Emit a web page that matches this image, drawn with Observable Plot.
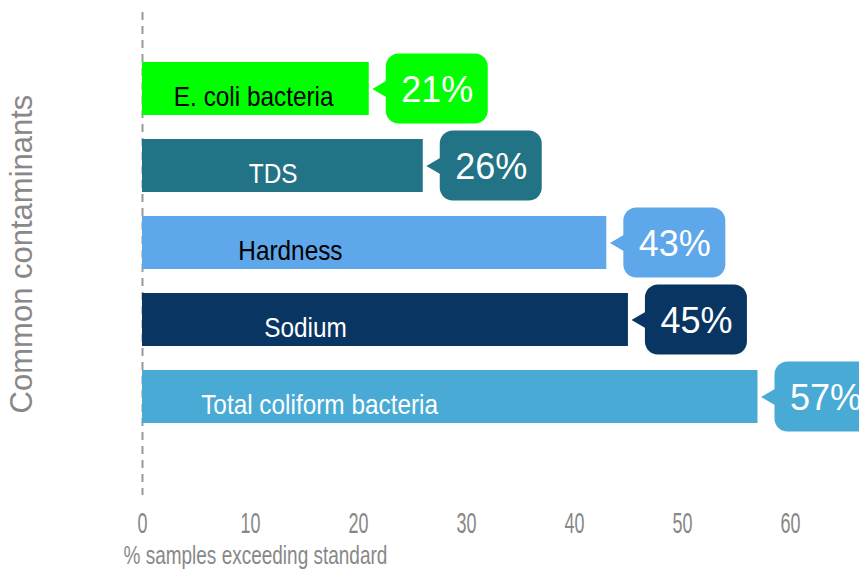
<!DOCTYPE html>
<html>
<head>
<meta charset="utf-8">
<script src="https://cdn.jsdelivr.net/npm/d3@7"></script>
<script src="https://cdn.jsdelivr.net/npm/@observablehq/plot@0.6"></script>
<style>
  html, body { margin: 0; padding: 0; background: #fff; }
  #chart svg { display: block; }
</style>
</head>
<body>
<div id="chart"></div>
<script>
// ---- data ----
const categories = ["E. coli bacteria", "TDS", "Hardness", "Sodium", "Total coliform bacteria"];
const values = [21, 26, 43, 45, 57];
const colors = ["#00ff00", "#227385", "#5ea7ea", "#083562", "#48aad5"];
const labelColors = ["#000000", "#ffffff", "#000000", "#ffffff", "#ffffff"];
const labelAt = [10.3, 12.1, 13.7, 15.1, 16.4];
const xTicks = [0, 10, 20, 30, 40, 50, 60];
const xTitle = "% samples exceeding standard";
const yTitle = "Common contaminants";

const data = categories.map((name, i) => ({
  name, value: values[i], color: colors[i], labelColor: labelColors[i], labelAt: labelAt[i]
}));

const sans = "'Liberation Sans', Arial, sans-serif";

const chart = Plot.plot({
  width: 859,
  height: 572,
  marginLeft: 142,
  marginRight: 0,
  marginTop: 12,
  marginBottom: 77,
  style: { background: "#fff", overflow: "hidden" },
  x: { domain: [0, 66.4], axis: null },
  y: { domain: categories, range: [50, 435], paddingInner: 0.3117, paddingOuter: 0.1558, axis: null },
  marks: [
    Plot.ruleX([0], { stroke: "#9a9a9a", strokeWidth: 2, strokeDasharray: "8,6" }),
    Plot.barX(data, { x1: 0, x2: "value", y: "name", fill: "color" }),
    // callout pointer
    Plot.dot(data, {
      x: "value", y: "name", symbol: "triangle", rotate: -90, r: 9.4,
      dx: 17.7, fill: "color", stroke: "none"
    }),
    // callout box
    Plot.barX(data, {
      x1: "value", x2: "value", y: "name", fill: "color",
      insetLeft: 17, insetRight: -119, insetTop: -8.5, insetBottom: -8.5, rx: 13
    }),
    Plot.text(data, {
      x: "value", y: "name", dx: 68, dy: 1, text: d => d.value + "%",
      fill: "#fff", fontSize: 36, fontFamily: sans
    }),
    // bar labels
    Plot.text(data, {
      x: "labelAt", y: "name", dy: 8.5, text: "name", fill: "labelColor",
      fontSize: 28, fontFamily: sans
    }),
    // x axis
    Plot.axisX(xTicks, {
      tickSize: 0, tickPadding: 16.5, fontSize: 29, fill: "#888",
      fontFamily: sans, label: null
    }),
    Plot.text([xTitle], {
      frameAnchor: "bottom-left", dx: -19, dy: 68, textAnchor: "start",
      fontSize: 25, fill: "#888", fontFamily: sans
    }),
    Plot.text([yTitle], {
      frameAnchor: "left", dx: -120.5, rotate: -90, textAnchor: "middle",
      fontSize: 31, fill: "#888", fontFamily: sans
    })
  ]
});

// condense horizontal texts about each text's own anchor to match the narrow lettering
function condense(fontSize, factor) {
  chart.querySelectorAll(`g[font-size="${fontSize}"] text`).forEach(t => {
    const tr = t.getAttribute("transform") || "";
    t.setAttribute("transform", `${tr} scale(${factor},1)`);
  });
}
condense(28, 0.87);
condense(29, 0.62);
condense(25, 0.76);

document.getElementById("chart").append(chart);
</script>
</body>
</html>
